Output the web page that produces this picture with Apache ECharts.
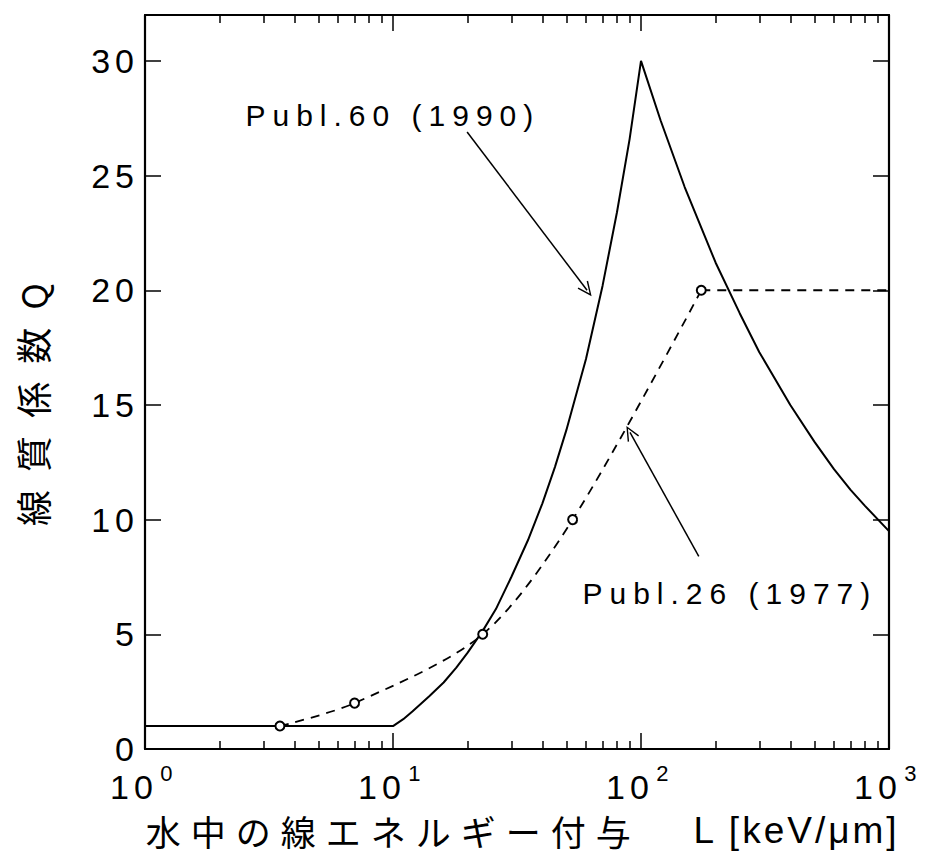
<!DOCTYPE html>
<html><head><meta charset="utf-8">
<script src="https://cdn.jsdelivr.net/npm/echarts@6/dist/echarts.min.js"></script>
<style>
html,body{margin:0;padding:0;background:#fff;}
#chart{width:925px;height:867px;}
#chart text{letter-spacing:5px;}
#chart text[style*="30px"]{letter-spacing:7px;}
#chart text[style*="35px"]{letter-spacing:10px;}
#chart text[style*="37px"]{letter-spacing:3px;}
</style></head><body><div id="chart"></div>
<script>
// ICRP Publ.60 (1990) solid curve
const solidL = [1, 10, 11, 12, 14, 16, 18, 20, 23, 26, 30, 35, 40, 45, 50, 60, 70, 80, 90, 100, 120, 150, 200, 250, 300, 400, 500, 600, 700, 800, 1000];
const solidQ = [1, 1, 1.3, 1.65, 2.3, 2.9, 3.55, 4.2, 5.15, 6.1, 7.5, 9.1, 10.7, 12.3, 13.9, 17.0, 20.2, 23.4, 26.6, 30.0, 27.4, 24.5, 21.2, 19.0, 17.3, 15.0, 13.4, 12.2, 11.3, 10.6, 9.5];
// ICRP Publ.26 (1977) dashed curve with open-circle points
const dashL = [3.5, 7, 23, 53, 175];
const dashQ = [1, 2, 5, 10, 20];
const flatL = [175, 1000];
const flatQ = [20, 20];
// annotations
const noteText = ['Publ.60 (1990)', 'Publ.26 (1977)'];
const noteL = [2.53, 57.8];
const noteQ = [27.6, 6.76];
const arrowFromL = [19.9, 171];
const arrowFromQ = [26.9, 8.4];
const arrowToL = [60.6, 90.3];
const arrowToQ = [20.0, 13.8];
// axes
const xMin = 1, xMax = 1000;
const yMin = 0, yMax = 32, yStep = 5;
const xTitleCJK = '水中の線エネルギー付与';
const xTitleLatin = 'L [keV/μm]';
const yTitle = '線 質 係 数 Q';

const pairs = (a, b) => a.map((v, i) => [v, b[i]]);
const LAT = 'Liberation Sans, Arial, Helvetica, sans-serif';
const CJK = 'Noto Sans CJK JP, sans-serif';
const chevron = 'path://M0,0 L7,14 L5.6,14.6 L0,3.2 L-5.6,14.6 L-7,14 Z';

const chart = echarts.init(document.getElementById('chart'), null, {renderer: 'svg'});
const axisLineStyle = {color: '#000', width: 2.2};
const xAxisCommon = {
  type: 'log', logBase: 10, min: xMin, max: xMax, gridIndex: 0,
  axisLine: {show: true, onZero: false, lineStyle: axisLineStyle},
  axisTick: {show: true, inside: true, length: 16, lineStyle: {color: '#000', width: 1.5}},
  minorTick: {show: true, splitNumber: 9, length: 8, lineStyle: {color: '#000', width: 1.5}},
  splitLine: {show: false}, minorSplitLine: {show: false}
};
const yAxisCommon = {
  type: 'value', min: yMin, max: yMax, interval: yStep, gridIndex: 0,
  axisLine: {show: true, onZero: false, lineStyle: axisLineStyle},
  axisTick: {show: true, inside: true, length: 16, lineStyle: {color: '#000', width: 1.5},
    interval: 0},
  splitLine: {show: false}
};

chart.setOption({
  animation: false,
  backgroundColor: '#fff',
  grid: {left: 145, right: 36, top: 15, bottom: 118, containLabel: false, outerBoundsMode: 'none'},
  xAxis: [
    Object.assign({}, xAxisCommon, {
      position: 'bottom',
      name: '{c|' + xTitleCJK + '}{l|' + xTitleLatin + '}',
      nameLocation: 'middle', nameGap: 63,
      nameTextStyle: {
        rich: {
          c: {fontFamily: CJK, fontSize: 35, color: '#000', padding: [0, 65, 0, 52]},
          l: {fontFamily: LAT, fontSize: 37, color: '#000', padding: [0, 0, 0, 57]}
        }
      },
      axisLabel: {
        show: true, margin: 13, showMinLabel: true, showMaxLabel: true,
        formatter: v => '{b|10}{s|' + Math.round(Math.log10(v)) + '}',
        rich: {
          b: {fontFamily: LAT, fontSize: 34, color: '#000', verticalAlign: 'bottom', padding: [8, 10, 0, 0]},
          s: {fontFamily: LAT, fontSize: 22, color: '#000', verticalAlign: 'top'}
        }
      }
    }),
    Object.assign({}, xAxisCommon, {position: 'top', axisLabel: {show: false}})
  ],
  yAxis: [
    Object.assign({}, yAxisCommon, {
      position: 'left',
      name: yTitle, nameLocation: 'middle', nameGap: 95, nameRotate: 90,
      nameTextStyle: {fontFamily: CJK, fontSize: 36, color: '#000', padding: [0, 40, 0, 0]},
      axisLabel: {
        show: true, margin: 6, fontFamily: LAT, fontSize: 34, color: '#000',
        padding: [16, 0, 0, 0],
        formatter: v => (v % yStep === 0 ? String(v) : '')
      }
    }),
    Object.assign({}, yAxisCommon, {position: 'right', axisLabel: {show: false}})
  ],
  series: [
    {
      type: 'line', name: 'Publ.60', xAxisIndex: 0, yAxisIndex: 0,
      data: pairs(solidL, solidQ), showSymbol: false, symbol: 'none',
      lineStyle: {color: '#000', width: 2}, z: 3,
      markLine: {
        silent: true, animation: false,
        symbol: ['none', chevron], symbolSize: [13, 15],
        lineStyle: {color: '#000', width: 1.5, type: 'solid'},
        label: {show: false},
        data: arrowFromL.map((l, i) => [
          {coord: [l, arrowFromQ[i]]},
          {coord: [arrowToL[i], arrowToQ[i]]}
        ])
      },
      markPoint: {
        silent: true, animation: false,
        symbol: 'circle', symbolSize: 1, itemStyle: {color: 'rgba(0,0,0,0)'},
        label: {show: true, position: 'right', distance: 0, fontFamily: LAT, fontSize: 30, color: '#000',
          formatter: p => p.name},
        data: noteText.map((t, i) => ({name: t, coord: [noteL[i], noteQ[i]]}))
      }
    },
    {
      type: 'line', name: 'Publ.26', xAxisIndex: 0, yAxisIndex: 0,
      data: pairs(dashL, dashQ), smooth: 0.3,
      symbol: 'emptyCircle', symbolSize: 9, showSymbol: true,
      itemStyle: {color: '#000', borderColor: '#000', borderWidth: 1.5},
      lineStyle: {color: '#000', width: 1.8, type: [9, 7]}, z: 4
    },
    {
      type: 'line', name: 'Publ.26 flat', xAxisIndex: 0, yAxisIndex: 0,
      data: pairs(flatL, flatQ), showSymbol: false, symbol: 'none',
      lineStyle: {color: '#000', width: 1.8, type: [9, 7]}, z: 2
    }
  ]
});
</script></body></html>
